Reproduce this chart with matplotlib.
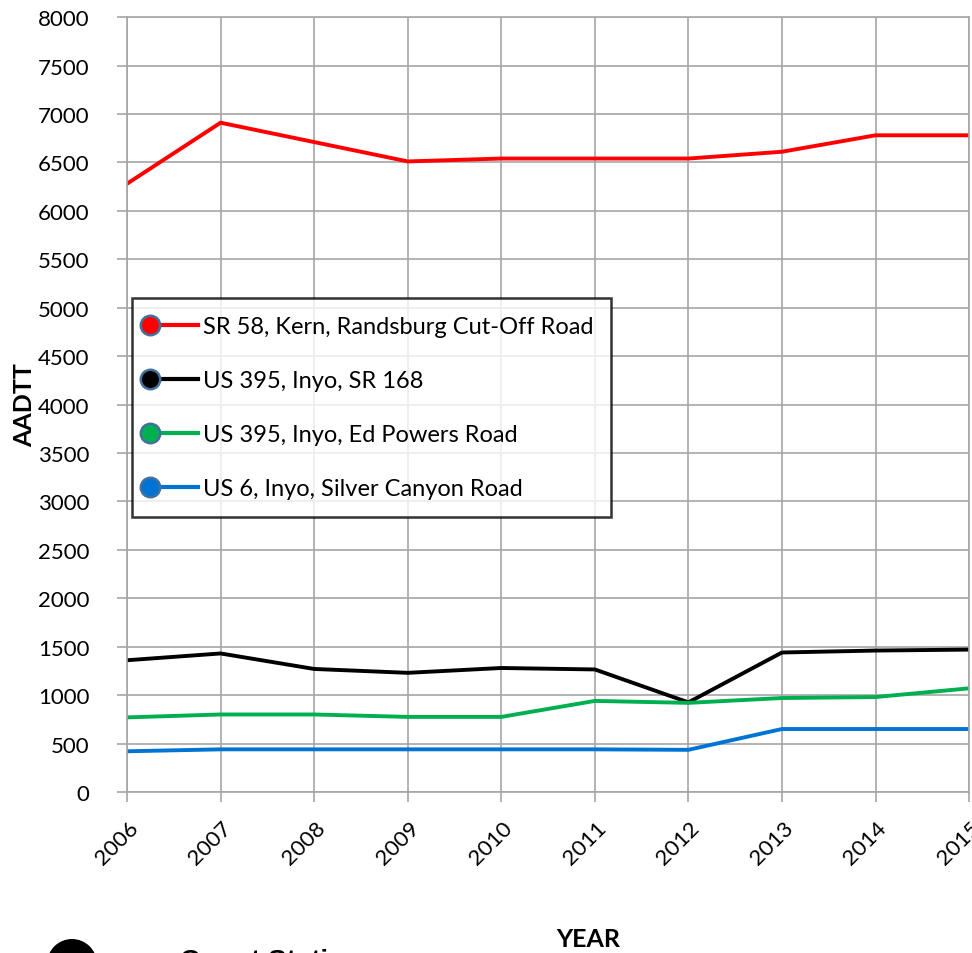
import matplotlib
matplotlib.use("Agg")
import matplotlib.pyplot as plt
import matplotlib.transforms as mtransforms
from matplotlib.legend_handler import HandlerLine2D
from matplotlib.lines import Line2D
from matplotlib.patches import Ellipse

plt.rcParams['font.family'] = ['Lato', 'DejaVu Sans']

years = [2006, 2007, 2008, 2009, 2010, 2011, 2012, 2013, 2014, 2015]
sr58_kern = [6280, 6910, 6710, 6510, 6540, 6540, 6540, 6610, 6780, 6780]
us395_sr168 = [1360, 1430, 1270, 1230, 1280, 1265, 925, 1440, 1460, 1470]
us395_ed_powers = [770, 800, 800, 775, 775, 940, 920, 970, 980, 1070]
us6_silver = [420, 440, 440, 440, 440, 440, 435, 650, 650, 650]

labels = ["SR 58, Kern, Randsburg Cut-Off Road",
          "US 395, Inyo, SR 168",
          "US 395, Inyo, Ed Powers Road",
          "US 6, Inyo, Silver Canyon Road"]
colors = ["#FF0000", "#000000", "#00B050", "#0074D4"]
series = [sr58_kern, us395_sr168, us395_ed_powers, us6_silver]


class MarkerLeftHandler(HandlerLine2D):
    # legend entry: circle on the left, line running to the right
    def create_artists(self, legend, orig_handle, xdescent, ydescent,
                       width, height, fontsize, trans):
        y = height / 2 - ydescent
        x0 = -xdescent
        line = Line2D([x0, x0 + width], [y, y],
                      color=orig_handle.get_color(), lw=3)
        mk = Line2D([x0], [y], marker='o', markersize=14,
                    markerfacecolor=orig_handle.get_color(),
                    markeredgecolor="#41719C", markeredgewidth=1.8,
                    linestyle='none')
        line.set_transform(trans)
        mk.set_transform(trans)
        return [line, mk]


fig = plt.figure(figsize=(9.72, 9.54), dpi=100)
ax = fig.add_axes([0.1307, 0.1688, 0.8663, 0.8122])

handles = []
for vals, lab, col in zip(series, labels, colors):
    h, = ax.plot(years, vals, color=col, lw=2.8, label=lab)
    handles.append(h)

ax.set_xlim(2006, 2015)
ax.set_ylim(0, 8000)
ax.set_xticks(years)
ax.set_yticks(range(0, 8001, 500))
ax.set_xticklabels([str(y) for y in years], rotation=45, ha='right',
                   va='center', rotation_mode='anchor')
ax.tick_params(axis='both', labelsize=16, color='#A6A6A6', length=7,
               width=1.2)
ax.tick_params(axis='y', pad=20)
ax.tick_params(axis='x', pad=16)
shift = mtransforms.ScaledTranslation(0.08, 0, fig.dpi_scale_trans)
for lbl in ax.get_xticklabels():
    lbl.set_transform(lbl.get_transform() + shift)
ax.grid(True, color='#A6A6A6', lw=1.2)
ax.set_axisbelow(True)
for s in ax.spines.values():
    s.set_color('#A6A6A6')
    s.set_linewidth(1.2)

ax.set_ylabel("AADTT", fontsize=18, fontweight='bold')
ax.yaxis.set_label_coords(-0.108, 0.5)

leg = ax.legend(handles=handles, loc='upper left',
                bbox_to_anchor=(0.006, 0.637), fontsize=17,
                frameon=True, fancybox=False, edgecolor='black',
                handlelength=2.05, handletextpad=0.2, labelspacing=1.4,
                borderpad=0.75, borderaxespad=0,
                handler_map={Line2D: MarkerLeftHandler()})
leg.get_frame().set_linewidth(1.8)

fig.text(0.605, (954 - 947) / 954, "YEAR", fontsize=18, fontweight='bold',
         ha='center', va='baseline')
fig.text(180 / 972, (954 - 969) / 954, "Count Stations", fontsize=20,
         fontweight='bold', family=['Liberation Sans', 'DejaVu Sans'],
         ha='left', va='baseline')
fig.patches.append(Ellipse((72 / 972, (954 - 965) / 954), 50 / 972, 50 / 954,
                           transform=fig.transFigure,
                           facecolor='black', edgecolor='none'))

fig.savefig("out.png", dpi=100)
